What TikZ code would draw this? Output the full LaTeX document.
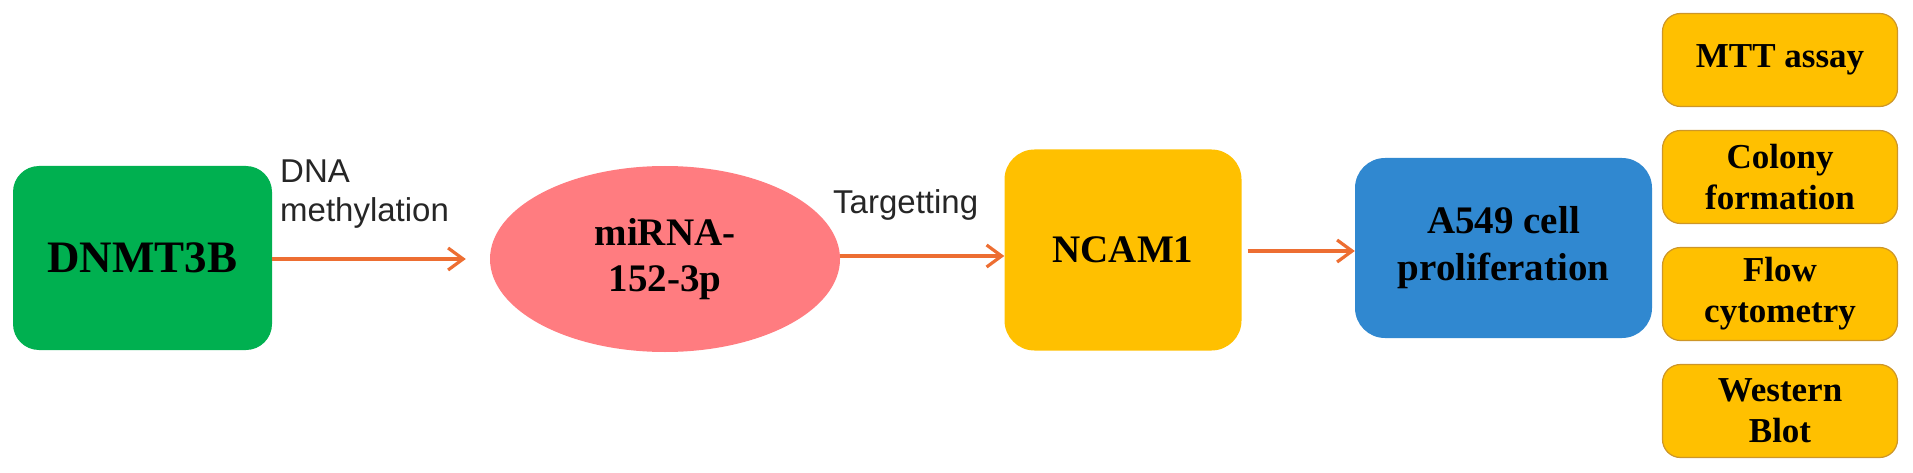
\documentclass[tikz,border=0pt]{standalone}
\usepackage{fontspec}
\setmainfont{Liberation Serif}
\newfontfamily\lsans{Liberation Sans}
\usetikzlibrary{shapes.geometric,arrows.meta}
\definecolor{cgreen}{RGB}{0,176,80}
\definecolor{cpink}{RGB}{255,124,128}
\definecolor{cyellow}{RGB}{255,192,0}
\definecolor{cblue}{RGB}{48,136,208}
\definecolor{corange}{RGB}{237,110,50}
\definecolor{cborder}{RGB}{205,150,40}
\tikzset{
  box/.style={rectangle, inner sep=0pt, align=center, text=black, font=\bfseries},
  sidebox/.style={box, fill=cyellow, draw=cborder, line width=1.2pt, rounded corners=18pt,
    minimum width=235pt, minimum height=93pt, font=\fontsize{35}{41}\selectfont\bfseries},
  arr/.style={draw=corange, line width=3.2pt, -{Straight Barb[length=15pt,width=22pt,line width=3.2pt]}},
  lab/.style={font=\lsans\fontsize{33}{39}\selectfont, text=black!85, align=left, inner sep=0pt}
}
\begin{document}
\begin{tikzpicture}[x=1pt,y=-1pt]
\useasboundingbox (0,0) rectangle (1913,473);
\node[box, fill=cgreen, rounded corners=26pt, minimum width=259pt, minimum height=184pt,
  font=\fontsize{45}{50}\selectfont\bfseries] (dn) at (142.5,258) {DNMT3B};
\node[box, ellipse, fill=cpink, minimum width=350pt, minimum height=186pt,
  font=\fontsize{39}{46}\selectfont\bfseries] (mi) at (665,259) {miRNA-\\152-3p};
\node[box, fill=cyellow, rounded corners=30pt, minimum width=237pt, minimum height=201pt,
  font=\fontsize{39}{46}\selectfont\bfseries] (nc) at (1123,250) {NCAM1};
\node[box, fill=cblue, rounded corners=30pt, minimum width=297pt, minimum height=180pt,
  font=\fontsize{39}{47}\selectfont\bfseries] (ap) at (1503.5,248) {A549 cell\\proliferation};
\node[sidebox] (mtt) at (1780,60) {MTT assay};
\node[sidebox] (col) at (1780,177) {Colony\\formation};
\node[sidebox] (flo) at (1780,294) {Flow\\cytometry};
\node[sidebox] (wes) at (1780,411) {Western\\Blot};
\node[lab, anchor=base west] (l1) at (280,183) {DNA};
\node[lab, anchor=base west] (l2) at (280,221) {methylation};
\node[lab, anchor=base west] (l3) at (833,213) {Targetting};
\draw[arr] (dn.east |- 0,259) -- ([xshift=-24pt]mi.west |- 0,259);
\draw[arr] (mi.east |- 0,256) -- (nc.west |- 0,256);
\draw[arr] ([xshift=6pt]nc.east |- 0,251) -- (ap.west |- 0,251);
\end{tikzpicture}
\end{document}
